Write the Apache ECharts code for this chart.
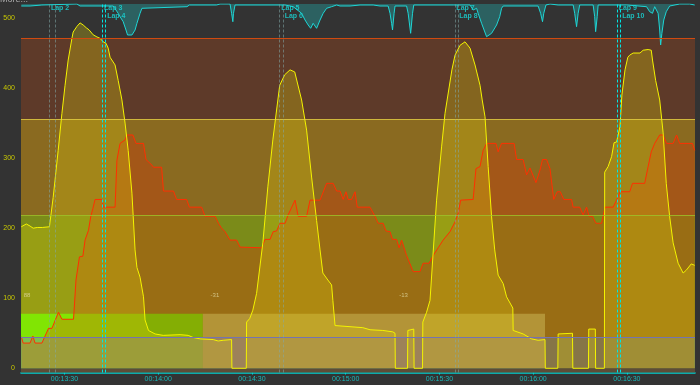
<!DOCTYPE html>
<html><head><meta charset="utf-8">
<script src="https://cdn.jsdelivr.net/npm/echarts/dist/echarts.min.js"></script>
<style>html,body{margin:0;padding:0;background:#333333;}#c{width:700px;height:385px;}</style>
</head><body><div id="c"></div>
<script>
// ---- data (time in seconds, power in watts) ----
const tickTimes = [810, 840, 870, 900, 930, 960, 990];
const powerTicks = [0, 100, 200, 300, 400, 500];

const power = [
[796.2,202],[797.8,206],[799.0,203],[800.0,200],[801.3,201],[802.9,201],[805.2,202],[806.4,244],[808.0,311],[809.2,364],[810.2,404],[811.2,440],[812.4,471],[812.8,480],[814.0,488],[815.0,493],[816.0,490],[817.0,486],[817.9,483],[819.2,476],[820.4,473],[821.4,471],[822.4,466],[823.3,464],[824.0,457],[824.6,444],[826.2,433],[827.2,411],[828.4,383],[829.4,350],[830.4,311],[831.6,250],[832.6,169],[833.2,144],[834.2,130],[835.3,102],[835.8,69],[836.9,54],[839.0,49],[841.6,47],[847.0,48],[849.6,47],[851.2,44],[853.4,42],[857.6,41],[859.2,39],[860.8,40],[863.5,41],[863.6,0],[868.2,0],[868.3,66],[869.3,71],[870.3,83],[871.5,107],[873.5,179],[875.1,259],[876.7,326],[878.3,383],[878.9,404],[880.5,419],[882.2,426],[883.7,423],[885.9,383],[887.5,340],[889.1,273],[890.7,211],[891.8,169],[892.7,136],[894.3,126],[895.5,119],[895.9,97],[896.6,61],[897.1,59],[905.5,58],[907.8,55],[911.9,54],[915.1,52],[915.8,50],[915.9,0],[919.8,0],[919.9,54],[921.8,56],[921.9,0],[924.6,0],[924.7,66],[925.9,80],[927.0,97],[929.1,240],[930.7,316],[931.8,364],[934.0,426],[935.0,447],[936.6,461],[938.2,466],[939.8,457],[941.4,433],[943.0,404],[943.7,383],[944.6,359],[945.6,288],[946.7,216],[947.7,169],[948.8,133],[950.4,121],[951.5,102],[953.5,86],[953.6,54],[956.8,49],[959.5,42],[961.6,40],[963.8,41],[963.9,0],[967.9,0],[968.0,49],[972.6,50],[972.7,0],[977.7,0],[977.8,56],[979.9,56],[980.0,0],[982.8,0],[982.9,280],[984.0,288],[985.1,302],[985.9,322],[986.7,323],[987.8,345],[988.4,390],[989.4,426],[990.3,444],[990.9,447],[992.0,450],[994.2,450],[995.2,454],[996.8,455],[997.8,454],[998.2,440],[999.2,411],[1000.5,383],[1001.6,336],[1002.6,264],[1003.7,216],[1004.8,179],[1006.4,150],[1008.0,136],[1009.0,140],[1010.6,149],[1011.7,147]
];

const second = [
[796.2,45],[796.8,36],[799.0,36],[799.9,46],[800.6,36],[802.8,36],[804.9,57],[806.0,57],[808.1,80],[809.2,70],[812.9,70],[813.1,83],[813.7,126],[814.8,159],[815.9,160],[816.6,183],[817.7,197],[818.4,216],[819.1,228],[819.8,241],[822.0,241],[822.5,230],[826.2,230],[826.8,297],[827.8,321],[829.4,326],[830.0,333],[831.9,333],[832.9,321],[835.3,321],[836.1,298],[838.0,290],[838.5,287],[841.1,287],[841.7,253],[844.9,253],[845.9,241],[849.1,241],[850.0,230],[853.9,230],[855.0,217],[858.2,217],[859.3,207],[860.3,200],[861.4,195],[863.0,183],[865.1,183],[866.2,173],[873.1,172],[874.2,184],[875.8,184],[876.8,195],[877.9,196],[879.0,207],[880.6,207],[881.6,219],[883.8,240],[884.8,217],[887.5,217],[888.6,240],[891.8,240],[893.9,264],[896.0,264],[897.1,253],[898.2,253],[899.2,241],[900.1,252],[900.8,241],[901.9,241],[903.0,252],[903.7,230],[907.8,230],[909.4,217],[910.4,207],[912.0,207],[912.9,196],[914.2,195],[915.0,184],[916.3,184],[917.1,172],[917.9,183],[919.5,161],[921.6,138],[923.8,138],[924.8,150],[926.7,150],[928.0,161],[929.6,172],[931.2,183],[933.4,195],[935.0,209],[936.0,221],[936.8,240],[940.8,241],[941.7,285],[943.0,288],[944.0,311],[945.1,321],[948.1,321],[948.8,309],[949.9,321],[953.9,321],[954.7,298],[956.8,298],[957.9,276],[959.0,286],[960.9,265],[962.2,283],[963.0,298],[964.3,298],[965.4,285],[966.6,241],[967.7,252],[968.7,252],[969.8,241],[972.3,241],[972.8,230],[974.9,230],[976.0,219],[977.1,230],[977.9,217],[979.0,217],[980.1,207],[981.9,207],[983.0,230],[985.6,230],[986.7,240],[987.8,252],[990.9,252],[991.8,264],[995.7,264],[996.8,288],[997.8,309],[998.9,321],[1000.5,333],[1001.6,333],[1002.7,321],[1004.8,321],[1005.9,333],[1006.9,321],[1011.0,321],[1011.7,311]
];

const topTrace = [
[796.2,2],[799.0,2],[802.8,1],[803.2,0],[814.0,0],[815.0,2],[825.6,2],[827.2,9.3],[827.8,12.7],[828.8,17.7],[829.7,26],[830.2,31],[831.6,31],[832.6,26],[833.2,19.3],[834.2,9.3],[834.8,4.3],[835.3,2.7],[849.2,2.7],[850.0,1],[858.7,1],[859.8,0],[863.0,0],[863.5,9.3],[863.9,17.7],[864.1,9.3],[864.6,1],[879.0,1],[880.6,1],[883.2,2.7],[885.9,9.3],[887.0,16],[888.0,21],[888.8,24.3],[889.6,19.3],[890.7,24.3],[891.8,16],[892.8,9.3],[893.9,4.3],[895.5,2.7],[897.1,1],[898.2,2],[901.4,2],[904.6,1],[908.8,1],[911.0,2],[913.6,2],[914.2,9.3],[914.7,19.3],[915.0,26],[915.5,9.3],[915.8,2],[919.5,2],[920.0,9.3],[920.8,29.3],[921.4,9.3],[921.8,1],[934.4,1],[939.8,1],[940.8,6],[941.9,4.3],[942.4,9.3],[943.5,19.3],[945.1,32.7],[946.7,29.3],[948.3,21],[949.3,12.7],[949.9,4.3],[950.4,2],[961.6,2],[962.4,9.3],[963.0,17.7],[963.4,9.3],[964.1,1],[965.4,0],[968.0,1],[972.8,1],[973.3,9.3],[973.9,22.7],[974.4,9.3],[974.9,1],[979.2,1],[979.7,12.7],[980.0,27.7],[980.5,12.7],[980.8,1],[989.9,1],[996.3,2.7],[997.3,7.7],[998.2,9.3],[998.9,2.7],[1000.0,9.3],[1000.5,26],[1000.8,41],[1001.2,29.3],[1001.8,16],[1002.6,7.7],[1003.7,2],[1006.9,0],[1010.1,0],[1011.7,1]
];

const laps = [
  {t: 805.2, name: 'Lap 2'}, {t: 807.0, name: ''},
  {t: 822.2, name: 'Lap 3'}, {t: 823.2, name: 'Lap 4'},
  {t: 878.9, name: 'Lap 5'}, {t: 880.0, name: 'Lap 6'},
  {t: 934.95, name: 'Lap 7'}, {t: 935.9, name: 'Lap 8'},
  {t: 986.9, name: 'Lap 9'}, {t: 988.0, name: 'Lap 10'}
];
const highlightedLaps = ['Lap 3', 'Lap 4', 'Lap 9', 'Lap 10'];

const zoneBounds = [-6, 0, 44, 218, 356, 471];
const intervalBlocks = [[796.1, 854.3], [854.3, 963.8]];
const blockTop = 78;
const notes = [{t: 796.8, text: '88'}, {t: 856.6, text: '-31'}, {t: 917.0, text: '-13'}];
const noteLevel = 104;

// ---- styles ----
const zoneColors = ['#5d4c36', '#5e9868', '#7b8b19', '#8a6a20', '#5e3a29'];
const zoneLineColors = {44: '#7474b0', 218: 'rgba(160,200,40,0.8)', 356: 'rgba(230,210,70,0.75)', 471: '#d04a10'};
const blockUpper = ['#5af000', '#a2c850'];
const blockLower = ['#54b872', '#80ac84'];

const X0 = 796.1, X1 = 1011.8;
const fmt = v => {
  const m = Math.floor(v / 60), s = Math.round(v - m * 60);
  return '00:' + String(m).padStart(2, '0') + ':' + String(s).padStart(2, '0');
};

const areas = [];
for (let i = 0; i < zoneColors.length; i++) {
  areas.push([{yAxis: zoneBounds[i], itemStyle: {color: zoneColors[i]}}, {yAxis: zoneBounds[i + 1]}]);
}
intervalBlocks.forEach((b, i) => {
  areas.push([{xAxis: b[0], yAxis: zoneBounds[2], itemStyle: {color: blockUpper[i]}}, {xAxis: b[1], yAxis: blockTop}]);
  areas.push([{xAxis: b[0], yAxis: 0, itemStyle: {color: blockLower[i]}}, {xAxis: b[1], yAxis: zoneBounds[2]}]);
});

const zoneLines = Object.keys(zoneLineColors).map(k => ({yAxis: +k, lineStyle: {color: zoneLineColors[k], width: 1, type: 'solid'}}));

let prevT = -1e9;
const lapLabels = [];
laps.forEach(l => {
  const second = (l.t - prevT) < 3;
  prevT = l.t;
  if (l.name) lapLabels.push({value: [l.t, 1], name: l.name, label: {offset: [0, second ? 12 : 4.3]}});
});

const gridBase = {left: 21, right: 5, outerBoundsMode: 'none', containLabel: false};
const chart = echarts.init(document.getElementById('c'));
chart.setOption({
  backgroundColor: '#333333',
  animation: false,
  textStyle: {fontFamily: 'Liberation Sans'},
  grid: [
    Object.assign({top: 18, bottom: 12.5}, gridBase),
    Object.assign({top: 4, height: 45}, gridBase),
    Object.assign({top: 4, bottom: 12.5}, gridBase)
  ],
  xAxis: [
    {gridIndex: 0, type: 'value', min: X0, max: X1,
     axisLine: {onZero: false, lineStyle: {color: '#00d4d4', width: 1.5}},
     axisTick: {customValues: tickTimes, length: 2, lineStyle: {color: '#00d4d4'}},
     axisLabel: {customValues: tickTimes, formatter: fmt, color: '#19b9b9', fontSize: 7, margin: 3},
     splitLine: {show: false}},
    {gridIndex: 1, type: 'value', min: X0, max: X1, show: false},
    {gridIndex: 2, type: 'value', min: X0, max: X1, show: false}
  ],
  yAxis: [
    {gridIndex: 0, type: 'value', min: -6, max: 500,
     axisLabel: {customValues: powerTicks, color: '#c8c800', fontSize: 7, margin: 6},
     axisLine: {show: false}, axisTick: {show: false}, splitLine: {show: false},
     name: 'Watts', nameLocation: 'middle', nameRotate: 90, nameGap: 15,
     nameTextStyle: {color: '#c8c800', fontSize: 8}},
    {gridIndex: 1, type: 'value', min: 0, max: 45, inverse: true, show: false},
    {gridIndex: 2, type: 'value', min: 0, max: 1, show: false}
  ],
  graphic: [
    {type: 'text', left: 0, top: -5, style: {text: 'More...', fill: '#aaaaaa', font: '9px Liberation Sans'}}
  ],
  series: [
    {type: 'line', name: 'second', xAxisIndex: 0, yAxisIndex: 0, data: second, symbol: 'none', z: 2,
     lineStyle: {color: '#ff3000', width: 1}, areaStyle: {color: 'rgba(210,55,10,0.5)'},
     markArea: {silent: true, z: 1, data: areas}},
    {type: 'line', name: 'power', xAxisIndex: 0, yAxisIndex: 0, data: power, symbol: 'none', z: 2,
     lineStyle: {color: '#f4f400', width: 1}, areaStyle: {color: 'rgba(225,205,10,0.42)'},
     markLine: {silent: true, symbol: ['none', 'none'], label: {show: false}, data: zoneLines}},
    {type: 'scatter', xAxisIndex: 0, yAxisIndex: 0, symbolSize: 1, itemStyle: {color: 'rgba(0,0,0,0)'}, z: 4,
     data: notes.map(n => ({value: [n.t, noteLevel], name: n.text})),
     label: {show: true, formatter: '{b}', position: 'right', distance: 0, color: '#e0d8a0', fontSize: 6}},
    {type: 'line', name: 'top', xAxisIndex: 1, yAxisIndex: 1, data: topTrace, symbol: 'none', z: 3,
     lineStyle: {color: '#1ed6d6', width: 1}, areaStyle: {color: 'rgba(30,180,180,0.5)'}},
    {type: 'scatter', xAxisIndex: 2, yAxisIndex: 2, symbolSize: 1, itemStyle: {color: 'rgba(0,0,0,0)'}, z: 6,
     data: lapLabels,
     label: {show: true, formatter: '{b}', position: 'right', distance: 1, color: '#18dcdc', fontSize: 7, fontWeight: 'bold'},
     markLine: {silent: true, symbol: ['none', 'none'], label: {show: false},
       data: laps.map(l => ({xAxis: l.t, lineStyle: {
         color: highlightedLaps.includes(l.name) ? '#00e4e4' : 'rgba(130,170,170,0.55)', width: 1, type: [3, 2]}}))}}
  ]
});
</script></body></html>
